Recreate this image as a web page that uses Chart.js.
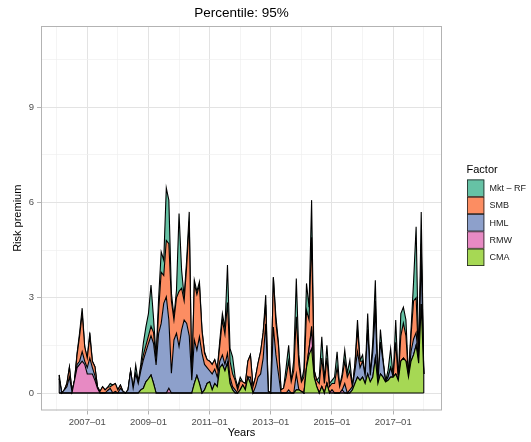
<!DOCTYPE html>
<html>
<head>
<meta charset="utf-8">
<script src="https://cdn.jsdelivr.net/npm/chart.js@4"></script>
<style>
  html, body { margin: 0; padding: 0; background: #fff; }
  canvas { display: block; }
</style>
</head>
<body>
<canvas id="chart" width="531" height="442"></canvas>
<script>
// Monthly observations, Jan 2006 .. Dec 2017; position n = end of month n counted from Jan 2006.
const monthPos = Array.from({ length: 144 }, (_, k) => k + 1);

// Risk premium contributed by each factor (stacked, CMA at the bottom).
const cma = [
  0, 0, 0, 0, 0, 0, 0, 0, 0, 0,
  0, 0, 0, 0, 0, 0, 0, 0, 0, 0,
  0, 0, 0, 0, 0, 0, 0, 0, 0, 0,
  0, 0, 0.1, 0.15, 0.35, 0.45, 0.57, 0.3, 0, 0,
  0, 0, 0, 0, 0, 0, 0, 0, 0, 0,
  0, 0, 0, 0.3, 0.55, 0.3, 0, 0.1, 0.3, 0.35,
  0.1, 0.3, 0.2, 0.8, 0.9, 0.7, 0.95, 0.3, 0.1, 0,
  0, 0.1, 0.25, 0.1, 0.5, 0.3, 0, 0, 0, 0,
  0, 0, 0, 0, 0, 0, 0, 0, 0, 0,
  0, 0, 0, 0.1, 0.1, 0.05, 0, 0.8, 1.2, 1.4,
  0.5, 0.2, 0, 0.2, 0, 0.3, 0, 0, 0, 0,
  0, 0, 0, 0, 0, 0.1, 0.3, 0.5, 0.4, 0.5,
  0.3, 0.6, 0.35, 0.5, 1.1, 0.3, 0.6, 0.5, 0.35, 0.4,
  0.5, 0.5, 0.6, 0.4, 1.0, 1.1, 1.0, 0.5, 1.0, 1.2,
  1.5, 0.94, 2.8, 0.6
];
const rmw = [
  0, 0, 0, 0, 0, 0, 0.4, 0.8, 0.9, 1.0,
  0.9, 0.6, 0.6, 0.6, 0.4, 0.15, 0, 0, 0, 0,
  0, 0, 0, 0, 0, 0, 0, 0, 0, 0,
  0, 0, 0, 0, 0, 0, 0, 0, 0, 0,
  0, 0, 0, 0.15, 0, 0, 0, 0, 0, 0,
  0, 0, 0, 0, 0, 0, 0, 0, 0, 0,
  0, 0, 0, 0, 0, 0, 0, 0, 0, 0,
  0, 0, 0, 0, 0, 0, 0, 0, 0, 0,
  0, 0, 0, 0, 0, 0, 0, 0, 0, 0,
  0, 0, 0, 0, 0, 0, 0, 0, 0.2, 0.6,
  0, 0, 0, 0, 0, 0, 0, 0.1, 0, 0,
  0, 0.1, 0, 0, 0, 0, 0, 0, 0, 0,
  0, 0, 0, 0, 0, 0, 0, 0, 0, 0,
  0, 0, 0, 0, 0, 0, 0, 0, 0, 0,
  0, 0, 0, 0
];
const hml = [
  0.45, 0, 0.1, 0.2, 0.5, 0.05, 0, 0.1, 0.1, 0.3,
  0.1, 0.2, 0.5, 0.2, 0.15, 0, 0, 0, 0, 0.08,
  0.15, 0, 0.05, 0, 0.15, 0.05, 0, 0.1, 0.7, 0.15,
  0.6, 0.3, 0.6, 0.89, 0.95, 1.11, 1.23, 1.26, 0.88, 1.88,
  2.19, 2.82, 3.03, 2.15, 0.62, 1.67, 1.88, 1.46, 1.98, 2.3,
  2.19, 1.8, 0.4, 1.37, 0.8, 1.47, 1.25, 0.8, 0.5, 0.35,
  0.5, 0.45, 0.3, 0.2, 0.3, 0.2, 0.3, 0.2, 0.1, 0.1,
  0, 0, 0, 0, 0, 0.2, 0, 0.2, 0.5, 0.6,
  1.1, 2.18, 0.05, 0, 2.08, 1.2, 0.6, 0, 0, 0,
  0.1, 0, 0, 0.5, 0, 0, 0, 0, 0, 0.1,
  0, 0, 0, 0, 0, 0, 0, 0, 0, 0,
  0, 0, 0.3, 0, 0.1, 0.1, 0.4, 0.8, 0.4, 0.5,
  0.25, 1.4, 0.2, 0.8, 1.5, 0, 1.0, 0.5, 0, 0.1,
  0.3, 0, 0, 0, 0, 0, 0, 0, 0.3, 0.5,
  0.4, 0, 1.5, 0
];
const smb = [
  0, 0, 0, 0.1, 0.32, 0, 0, 0.3, 0.8, 1.2,
  0.45, 0.3, 0.7, 0.2, 0.28, 0.05, 0.05, 0.2, 0.1, 0.1,
  0.05, 0.25, 0.25, 0.1, 0.1, 0, 0, 0, 0, 0,
  0, 0, 0.1, 0.16, 0.2, 0.24, 0.3, 0.34, 0.12, 0.72,
  1.61, 0.88, 1.77, 2.4, 2.28, 0.63, 1.12, 1.74, 1.32, 0.6,
  1.81, 3.6, 0, 1.78, 1.75, 1.63, 0.7, 0.35, 0.25, 0.3,
  0.3, 0.3, 0.25, 0.5, 1.1, 0.95, 1.6, 0.5, 0.4, 0.3,
  0.1, 0.3, 0.1, 0.2, 0.5, 0.7, 0.2, 0.3, 0.44, 0.7,
  0.8, 0.6, 0, 0, 1.56, 1.0, 0.9, 0.1, 0.15, 0.5,
  0.9, 0.35, 0.7, 1.8, 0.8, 0.3, 0.5, 1.8, 0.9, 2.8,
  0.22, 0.2, 0.3, 0.9, 0.3, 0.8, 0.2, 0.2, 0.3, 0.8,
  0.2, 0.4, 0.7, 0.5, 0.6, 0, 0.2, 0.7, 0.2, 0,
  0, 0, 0, 0, 0.3, 0, 0, 0, 0, 0,
  0, 0, 1.0, 0, 0.8, 1.1, 0.8, 0, 0.5, 1.2,
  1.1, 0, 0.4, 0
];
const mktRf = [
  0.12, 0, 0, 0, 0, 0, 0, 0.05, 0.1, 0.17,
  0, 0, 0.1, 0, 0, 0, 0, 0, 0, 0,
  0.1, 0, 0, 0, 0, 0, 0, 0, 0, 0,
  0.28, 0.06, 0.1, 0.37, 0.58, 0.7, 1.3, 0.45, 0.14, 0.4,
  0.64, 0.48, 1.65, 1.37, 0.25, 0.1, 0.24, 2.45, 0.57, 0.13,
  0.2, 0.3, 0, 0.1, 0.1, 0.1, 0.05, 0.05, 0, 0,
  0, 0, 0, 0.17, 0.2, 0.2, 1.18, 0.4, 0.54, 0.1,
  0.1, 0.1, 0, 0, 0, 0, 0, 0, 0, 0,
  0, 0.3, 0, 0, 0, 0.2, 0.07, 0, 0, 0.3,
  0.5, 0, 0.33, 1.2, 0.3, 0, 0.25, 0.85, 0.4, 1.17,
  0, 0, 0.2, 0.67, 0.1, 0.4, 0.1, 0.1, 0.2, 0.5,
  0, 0.1, 0.35, 0.13, 0.33, 0, 0, 0.3, 0.03, 0.2,
  0, 0.5, 0, 0.3, 0.65, 0, 0.4, 0.1, 0, 0.22,
  0.6, 0, 0.7, 0, 0.7, 0.5, 0.5, 0, 0.2, 0.6,
  2.23, 0, 1.0, 0
];

// Axis ticks
const xGridPos = [0, 12, 24, 36, 48, 60, 72, 84, 96, 108, 120, 132, 144];
const xTickPos = [12, 36, 60, 84, 108, 132];
const xTickLabels = ['2007–01', '2009–01', '2011–01', '2013–01', '2015–01', '2017–01'];
const yGridPos = [0, 1.5, 3, 4.5, 6, 7.5, 9, 10.5];
const yTickPos = [0, 3, 6, 9];
const yTickLabels = ['0', '3', '6', '9'];

// Legend (top to bottom) and stacking order (bottom to top)
const legendNames = ['Mkt – RF', 'SMB', 'HML', 'RMW', 'CMA'];
const legendColors = ['#66C2A5', '#FC8D62', '#8DA0CB', '#E78AC3', '#A6D854'];
const stackSeries = [
  { label: 'CMA', values: cma, color: '#A6D854' },
  { label: 'RMW', values: rmw, color: '#E78AC3' },
  { label: 'HML', values: hml, color: '#8DA0CB' },
  { label: 'SMB', values: smb, color: '#FC8D62' },
  { label: 'Mkt – RF', values: mktRf, color: '#66C2A5' }
];

const FONT = '"Liberation Sans", Arial, Helvetica, sans-serif';

const datasets = stackSeries.map((s, k) => ({
  label: s.label,
  data: s.values.map((v, j) => ({ x: monthPos[j], y: v })),
  backgroundColor: s.color,
  borderColor: '#000',
  borderWidth: 1.1,
  pointRadius: 0,
  pointHoverRadius: 0,
  tension: 0,
  fill: k === 0 ? 'origin' : '-1'
}));

const isIn = (arr, v) => arr.some(a => Math.abs(a - v) < 1e-9);

const decorations = {
  id: 'decorations',
  afterDatasetsDraw(chart) {
    const { ctx, scales: { x, y } } = chart;
    const y0 = y.getPixelForValue(0);
    const xs = x.getPixelForValue(monthPos[0]);
    const xe = x.getPixelForValue(monthPos[monthPos.length - 1]);
    const totalAt = j => stackSeries.reduce((acc, s) => acc + s.values[j], 0);
    ctx.save();
    ctx.strokeStyle = '#000';
    ctx.lineWidth = 1.1;
    ctx.beginPath();
    ctx.moveTo(xs, y0);
    ctx.lineTo(xe, y0);
    ctx.moveTo(xs, y0);
    ctx.lineTo(xs, y.getPixelForValue(totalAt(0)));
    ctx.moveTo(xe, y0);
    ctx.lineTo(xe, y.getPixelForValue(totalAt(monthPos.length - 1)));
    ctx.stroke();
    ctx.restore();
  },
  afterDraw(chart) {
    const { ctx, chartArea: a } = chart;
    ctx.save();
    // panel border
    ctx.strokeStyle = '#b3b3b3';
    ctx.lineWidth = 1;
    ctx.strokeRect(a.left + 0.5, a.top + 0.5, a.right - a.left - 1, a.bottom - a.top - 1);

    const cx = (a.left + a.right) / 2;
    ctx.fillStyle = '#000';
    ctx.textAlign = 'center';
    ctx.textBaseline = 'middle';
    ctx.font = '13.5px ' + FONT;
    ctx.fillText('Percentile: 95%', cx, 13.5);

    ctx.font = '11px ' + FONT;
    ctx.fillText('Years', cx, 433);

    ctx.save();
    ctx.translate(18, (a.top + a.bottom) / 2);
    ctx.rotate(-Math.PI / 2);
    ctx.fillText('Risk premium', 0, 0);
    ctx.restore();

    // legend
    ctx.textAlign = 'left';
    ctx.font = '11px ' + FONT;
    ctx.fillText('Factor', 466.5, 169.5);
    const keyX = 467, keyY = 179.5, keyS = 17.3;
    ctx.font = '9px ' + FONT;
    legendNames.forEach((name, k) => {
      const ky = keyY + k * keyS;
      ctx.fillStyle = legendColors[k];
      ctx.fillRect(keyX, ky, keyS, keyS);
      ctx.strokeStyle = '#222';
      ctx.lineWidth = 0.8;
      ctx.strokeRect(keyX + 0.4, ky + 0.4, keyS - 0.8, keyS - 0.8);
      ctx.fillStyle = '#1a1a1a';
      ctx.fillText(name, 489.5, ky + keyS / 2 + 0.5);
    });
    ctx.restore();
  }
};

new Chart(document.getElementById('chart'), {
  type: 'line',
  data: { datasets },
  options: {
    responsive: false,
    animation: false,
    devicePixelRatio: 1,
    layout: { padding: { top: 26, right: 89, left: 0, bottom: 0 } },
    plugins: {
      legend: { display: false },
      title: { display: false },
      tooltip: { enabled: false }
    },
    scales: {
      x: {
        type: 'linear',
        min: monthPos[0] - 0.05 * (monthPos[monthPos.length - 1] - monthPos[0]),
        max: monthPos[monthPos.length - 1] + 0.05 * (monthPos[monthPos.length - 1] - monthPos[0]),
        afterBuildTicks: s => { s.ticks = xGridPos.map(v => ({ value: v })); },
        afterFit: s => { s.height = 31.5; },
        border: { display: false },
        grid: {
          color: c => isIn(xTickPos, c.tick.value) ? '#e3e3e3' : '#efefef',
          lineWidth: c => isIn(xTickPos, c.tick.value) ? 1 : 0.7,
          tickColor: c => isIn(xTickPos, c.tick.value) ? '#b3b3b3' : 'rgba(0,0,0,0)',
          tickLength: 4,
          drawTicks: true
        },
        ticks: {
          autoSkip: false,
          maxRotation: 0,
          padding: 2,
          color: '#4d4d4d',
          font: { family: FONT, size: 9.5 },
          callback: v => {
            const k = xTickPos.findIndex(p => Math.abs(p - v) < 1e-9);
            return k >= 0 ? xTickLabels[k] : '';
          }
        }
      },
      y: {
        stacked: true,
        min: -0.55,
        max: 11.55,
        afterBuildTicks: s => { s.ticks = yGridPos.map(v => ({ value: v })); },
        afterFit: s => { s.width = 41; },
        border: { display: false },
        grid: {
          color: c => isIn(yTickPos, c.tick.value) ? '#e3e3e3' : '#efefef',
          lineWidth: c => isIn(yTickPos, c.tick.value) ? 1 : 0.7,
          tickColor: c => isIn(yTickPos, c.tick.value) ? '#b3b3b3' : 'rgba(0,0,0,0)',
          tickLength: 4,
          drawTicks: true
        },
        ticks: {
          autoSkip: false,
          padding: 3,
          color: '#4d4d4d',
          font: { family: FONT, size: 9.5 },
          callback: v => {
            const k = yTickPos.findIndex(p => Math.abs(p - v) < 1e-9);
            return k >= 0 ? yTickLabels[k] : '';
          }
        }
      }
    }
  },
  plugins: [decorations]
});
</script>
</body>
</html>
